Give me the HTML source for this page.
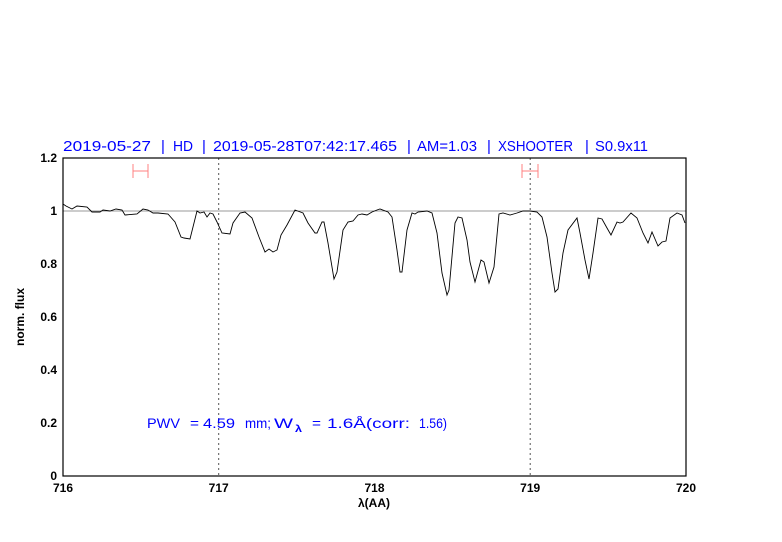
<!DOCTYPE html>
<html><head><meta charset="utf-8"><style>body{margin:0;background:#fff}svg{display:block}</style></head><body>
<svg width="782" height="542" xmlns="http://www.w3.org/2000/svg" font-family="Liberation Sans, sans-serif">
<rect width="782" height="542" fill="#fff"/>
<g font-size="15" fill="#0000ff" lengthAdjust="spacingAndGlyphs">
<text x="63" y="151" textLength="88" lengthAdjust="spacingAndGlyphs">2019-05-27</text>
<text x="161" y="151">|</text>
<text x="173" y="151" textLength="20" lengthAdjust="spacingAndGlyphs">HD</text>
<text x="202" y="151">|</text>
<text x="213" y="151" textLength="184" lengthAdjust="spacingAndGlyphs">2019-05-28T07:42:17.465</text>
<text x="407" y="151">|</text>
<text x="417" y="151" textLength="60" lengthAdjust="spacingAndGlyphs">AM=1.03</text>
<text x="487" y="151">|</text>
<text x="498" y="151" textLength="75" lengthAdjust="spacingAndGlyphs">XSHOOTER</text>
<text x="585" y="151">|</text>
<text x="595" y="151" textLength="53" lengthAdjust="spacingAndGlyphs">S0.9x11</text>
</g>
<line x1="63" y1="211" x2="686" y2="211" stroke="#999" stroke-width="1"/>
<line x1="218.7" y1="158" x2="218.7" y2="476" stroke="#555" stroke-dasharray="2,3"/>
<line x1="530.2" y1="158" x2="530.2" y2="476" stroke="#555" stroke-dasharray="2,3"/>
<g stroke="#ff8080" stroke-width="1">
<line x1="133" y1="171" x2="148" y2="171"/><line x1="133" y1="164" x2="133" y2="178"/><line x1="148" y1="164" x2="148" y2="178"/>
<line x1="522" y1="171" x2="538" y2="171"/><line x1="522" y1="164" x2="522" y2="178"/><line x1="538" y1="164" x2="538" y2="178"/>
</g>
<polyline fill="none" stroke="#000" stroke-width="0.9" points="63,204 66,206 72,209 77,206 87,207 92,212 100,212 103,210 110,211 116,209 122,210 125,215 137,214 143,209 148,210 153,213 158,213 168,214 175,222 181,237 184,238 190,239 197,211 200,213 204,212 207,217 210,213 213,214 217,222 222,233 230,234 233,223 240,213 245,212 252,218 259,237 265,252 269,249 273,252 277,250 281,235 287,225 295,210 303,213 308,223 315,233 317,233 322,222 324,222 328,243 334,279 337,272 343,230 348,222 353,221 358,215 362,214 367,215 372,212 377,210 380,209 388,212 392,217 397,250 400,272 402,272 407,230 412,213 415,214 418,212 427,211 432,213 437,233 442,273 447,295 449,290 455,223 458,217 462,218 467,240 470,262 475,282 481,260 484,262 489,283 494,267 499,214 503,213 510,215 517,213 523,211 530,211 537,212 542,217 547,237 552,273 555,292 558,289 563,253 568,230 577,218 580,233 585,260 589,279 593,253 598,218 602,219 607,228 611,235 617,222 620,223 623,222 631,213 637,218 643,233 648,243 652,232 658,246 662,242 666,241 670,218 677,213 682,215 685,223"/>
<rect x="63" y="158" width="623" height="318" fill="none" stroke="#000" stroke-width="1.2"/>
<g stroke="#000" stroke-width="1" id="ticks"></g>
<g font-size="12" fill="#000" text-anchor="end" font-weight="bold">
<text x="57" y="480">0</text><text x="57" y="427">0.2</text><text x="57" y="374">0.4</text><text x="57" y="321">0.6</text><text x="57" y="268">0.8</text><text x="57" y="215">1</text><text x="57" y="162">1.2</text>
</g>
<g font-size="12" fill="#000" text-anchor="middle" font-weight="bold">
<text x="63" y="492">716</text><text x="218.7" y="492">717</text><text x="374.5" y="492">718</text><text x="530.2" y="492">719</text><text x="686" y="492">720</text>
<text x="374" y="507">λ(AA)</text>
<text x="0" y="0" transform="translate(24,317) rotate(-90)">norm. flux</text>
</g>
<g font-size="14" fill="#0000ff">
<text x="147" y="428" textLength="33" lengthAdjust="spacingAndGlyphs">PWV</text>
<text x="190" y="428" textLength="9" lengthAdjust="spacingAndGlyphs">=</text>
<text x="203" y="428" textLength="32" lengthAdjust="spacingAndGlyphs">4.59</text>
<text x="245" y="428" textLength="26" lengthAdjust="spacingAndGlyphs">mm;</text>
<text x="274" y="428" textLength="19" lengthAdjust="spacingAndGlyphs">W</text>
<text x="295" y="432" font-size="10" font-weight="bold" textLength="7" lengthAdjust="spacingAndGlyphs">λ</text>
<text x="312" y="428" textLength="9" lengthAdjust="spacingAndGlyphs">=</text>
<text x="327" y="428" textLength="83" lengthAdjust="spacingAndGlyphs">1.6Å(corr:</text>
<text x="419" y="428" textLength="28" lengthAdjust="spacingAndGlyphs">1.56)</text>
</g>
<script>
var g=document.getElementById('ticks'),s='';
for(var i=0;i<=20;i++){var x=63+i*623/20,L=(i%5==0)?8:4;s+='<line x1="'+x+'" y1="476" x2="'+x+'" y2="'+(476-L)+'"/><line x1="'+x+'" y1="158" x2="'+x+'" y2="'+(158+L)+'"/>';}
for(var j=0;j<=24;j++){var y=476-j*318/24,L=(j%4==0)?8:4;s+='<line x1="63" y1="'+y+'" x2="'+(63+L)+'" y2="'+y+'"/><line x1="686" y1="'+y+'" x2="'+(686-L)+'" y2="'+y+'"/>';}
g.innerHTML=s;
</script>
</svg>
</body></html>
